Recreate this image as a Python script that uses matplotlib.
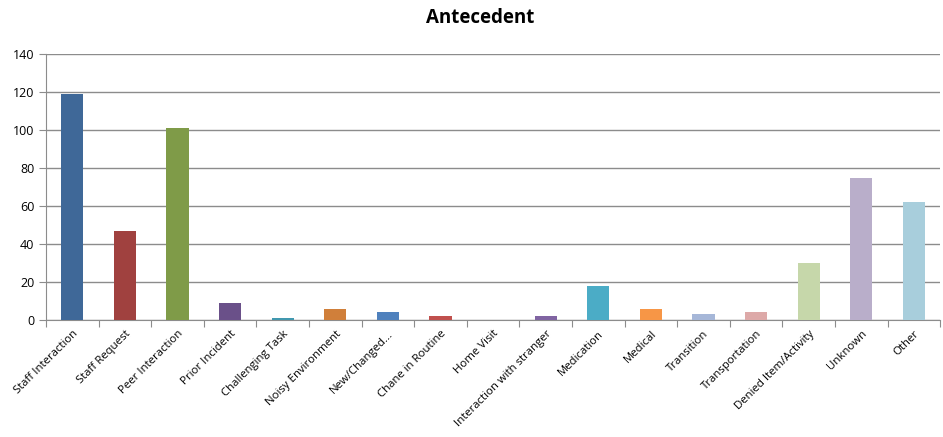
import matplotlib.pyplot as plt
import numpy as np

categories = ["Staff Interaction", "Staff Request", "Peer Interaction", "Prior Incident",
              "Challenging Task", "Noisy Environment", "New/Changed...", "Chane in Routine",
              "Home Visit", "Interaction with stranger", "Medication", "Medical",
              "Transition", "Transportation", "Denied Item/Activity", "Unknown", "Other"]
counts = [119, 47, 101, 9, 1, 6, 4, 2, 0, 2, 18, 6, 3, 4, 30, 75, 62]
colors = ["#3F6898", "#A0413F", "#7F9B48", "#6A5089", "#4198AF", "#D07F3A",
          "#4F81BD", "#C0504D", "#9BBB59", "#8064A2", "#4BACC6", "#F79646",
          "#A6B7D8", "#DDA9A8", "#C6D7AA", "#B9AECA", "#A8CEDC"]

plt.rcParams['font.family'] = ['Open Sans', 'DejaVu Sans']

fig = plt.figure(figsize=(9.43, 4.37), dpi=100)
ax = fig.add_axes([0.0488, 0.2677, 0.9482, 0.6087])

x = np.arange(len(categories))
ax.bar(x, counts, width=0.42, color=colors, zorder=3)

ax.set_xlim(-0.5, len(categories) - 0.5)
ax.set_ylim(0, 140)
ax.set_yticks(range(0, 141, 20))
ax.grid(axis="y", color="#8C8C8C", linewidth=1, zorder=0)

# category boundaries get the tick marks, labels sit under each bar
ax.set_xticks(np.arange(-0.5, len(categories), 1.0), minor=False)
ax.set_xticklabels([])
ax.set_xticks(x, minor=True)
ax.set_xticklabels(categories, minor=True, rotation=45, ha="right",
                   rotation_mode="anchor", fontsize=8.2)
ax.tick_params(axis="x", which="minor", length=0, pad=6)
ax.tick_params(axis="x", which="major", length=5, color="#8C8C8C")
ax.tick_params(axis="y", length=5, color="#8C8C8C", labelsize=9)

for side in ["top", "right"]:
    ax.spines[side].set_visible(False)
ax.spines["left"].set_color("#8C8C8C")
ax.spines["bottom"].set_color("#8C8C8C")

fig.text(0.509, 0.958, "Antecedent", ha="center", va="center",
         fontsize=13.5, fontweight="bold")

fig.savefig("out.png", dpi=100)
